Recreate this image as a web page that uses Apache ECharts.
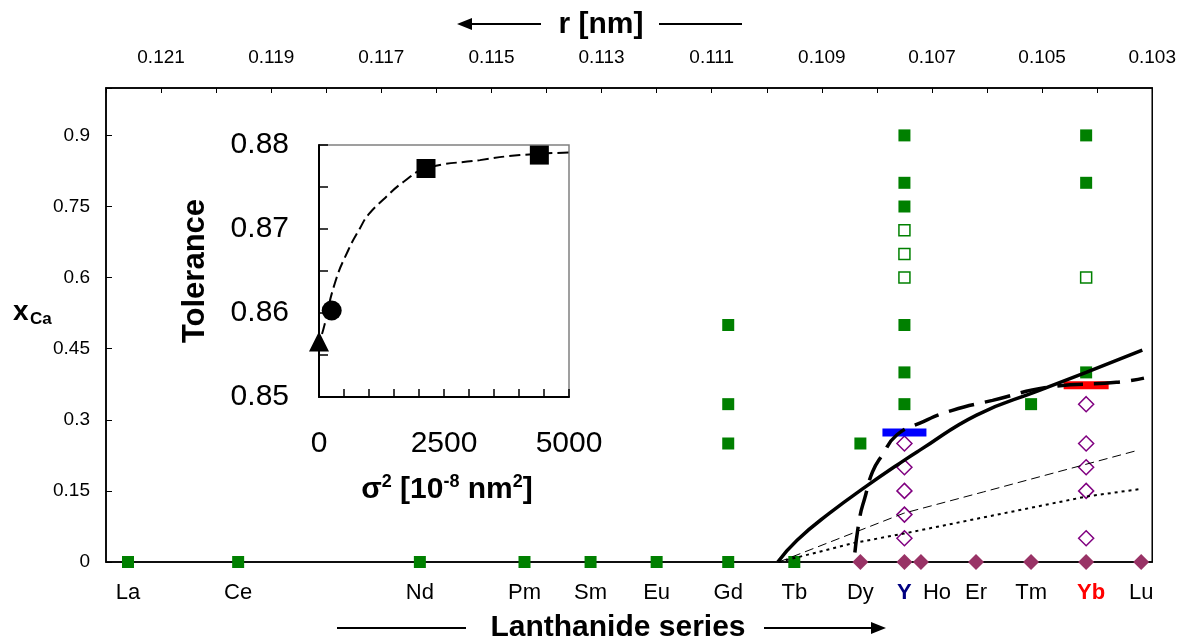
<!DOCTYPE html>
<html>
<head>
<meta charset="utf-8">
<script src="https://cdn.jsdelivr.net/npm/echarts@6.0.0/dist/echarts.min.js"></script>
<style>
  html, body { margin: 0; padding: 0; background: #fff; }
  #chart { width: 1179px; height: 641px; }
</style>
</head>
<body>
<div id="chart"></div>
<script>
const FONT = '"Liberation Sans", Arial, sans-serif';

// lanthanides (plus Y) and their ionic radii [nm]
const elements = ['La', 'Ce', 'Nd', 'Pm', 'Sm', 'Eu', 'Gd', 'Tb', 'Dy', 'Y', 'Ho', 'Er', 'Tm', 'Yb', 'Lu'];
const radii = [0.1216, 0.1196, 0.1163, 0.1144, 0.1132, 0.1120, 0.1107, 0.1095, 0.1083, 0.1075, 0.1072, 0.1062, 0.1052, 0.1042, 0.1032];

const rTickLabels = [0.121, 0.119, 0.117, 0.115, 0.113, 0.111, 0.109, 0.107, 0.105, 0.103];
const xCaTickLabels = [0, 0.15, 0.3, 0.45, 0.6, 0.75, 0.9];

// points: [element, x_Ca]
const greenFilled = [['La', 0], ['Ce', 0], ['Nd', 0], ['Pm', 0], ['Sm', 0], ['Eu', 0],
  ['Gd', 0], ['Gd', 0.25], ['Gd', 0.333], ['Gd', 0.5], ['Tb', 0], ['Dy', 0.25],
  ['Y', 0.333], ['Y', 0.4], ['Y', 0.5], ['Y', 0.75], ['Y', 0.8], ['Y', 0.9],
  ['Tm', 0.333], ['Yb', 0.4], ['Yb', 0.8], ['Yb', 0.9]];
const greenOpen = [['Y', 0.6], ['Y', 0.65], ['Y', 0.7], ['Yb', 0.6]];
const purpleFilled = [['Dy', 0], ['Y', 0], ['Ho', 0], ['Er', 0], ['Tm', 0], ['Yb', 0], ['Lu', 0]];
const purpleOpen = [['Y', 0.05], ['Y', 0.1], ['Y', 0.15], ['Y', 0.2], ['Y', 0.25],
  ['Yb', 0.05], ['Yb', 0.15], ['Yb', 0.2], ['Yb', 0.25], ['Yb', 0.333]];
const blueBar = [['Y', 0.273]];
const redBar = [['Yb', 0.373]];

// curves: [r, x_Ca]
const solidCurve = [[0.1098, 0], [0.10945, 0.046], [0.10886, 0.103], [0.10819, 0.16], [0.10750, 0.215],
  [0.10722, 0.236], [0.10619, 0.31], [0.10505, 0.362], [0.10420, 0.40], [0.10318, 0.447]];
const longDashCurve = [[0.10840, 0.02], [0.10831, 0.095], [0.10822, 0.135], [0.10808, 0.19], [0.10790, 0.226],
  [0.10764, 0.268], [0.10722, 0.293], [0.10663, 0.32], [0.10590, 0.341], [0.10487, 0.369],
  [0.10365, 0.379], [0.10315, 0.388]];
const thinDashCurve = [[0.10978, 0], [0.10751, 0.103], [0.10606, 0.148], [0.10325, 0.236]];
const dottedCurve = [[0.10978, 0], [0.10842, 0.04], [0.10751, 0.06], [0.10420, 0.138], [0.10322, 0.154]];

// inset: tolerance vs sigma^2
const sigmaTickLabels = [0, 2500, 5000];
const tolTickLabels = [0.85, 0.86, 0.87, 0.88];
const insetTriangle = [[0, 0.8566]];
const insetCircle = [[254, 0.8603]];
const insetSquares = [[2140, 0.8772], [4407, 0.8788]];
const insetFit = [[60, 0.8575], [94, 0.8582], [320, 0.8636], [587, 0.8675], [820, 0.8701], [987, 0.8717],
  [1287, 0.8735], [1687, 0.8756], [2140, 0.8772], [3220, 0.8782], [4020, 0.8788], [5000, 0.8791]];

const rOf = name => radii[elements.indexOf(name)];
const toXY = list => list.map(([n, v]) => [rOf(n), v]);

const chart = echarts.init(document.getElementById('chart'));

const textBase = { color: '#000', fontFamily: FONT };

const option = {
  animation: false,
  grid: [
    { left: 106, top: 88, width: 1048, height: 474, show: true, borderColor: '#000', borderWidth: 1.5 },
    { left: 319, top: 145, width: 250, height: 252, show: true, borderColor: '#808080', borderWidth: 1.5, backgroundColor: '#fff' }
  ],
  xAxis: [
    {
      gridIndex: 0, type: 'value', position: 'top', min: 0.103, max: 0.122, interval: 0.001, inverse: true,
      axisLine: { show: true, onZero: false, lineStyle: { color: '#000', width: 1.5 } },
      axisTick: { show: true, inside: true, length: 5, lineStyle: { color: '#000' } },
      axisLabel: { ...textBase, fontSize: 19, margin: 21, customValues: rTickLabels, formatter: v => v.toFixed(3) },
      splitLine: { show: false }
    },
    {
      gridIndex: 0, type: 'value', position: 'bottom', min: 0.103, max: 0.122, inverse: true,
      axisLine: { show: true, onZero: false, lineStyle: { color: '#000', width: 1.5 } },
      axisTick: { show: false },
      axisLabel: {
        ...textBase, fontSize: 22, margin: 20, customValues: radii,
        formatter: v => {
          let i = 0;
          radii.forEach((r, k) => { if (Math.abs(r - v) < Math.abs(radii[i] - v)) i = k; });
          const n = elements[i];
          if (n === 'Y') return '{y|Y}';
          if (n === 'Yb') return '{yb|Yb}';
          if (n === 'Ho') return '{ho|Ho}';
          return n;
        },
        rich: {
          y: { color: '#000080', fontWeight: 'bold', fontSize: 22, fontFamily: FONT },
          yb: { color: '#ff0000', fontWeight: 'bold', fontSize: 22, fontFamily: FONT, padding: [0, 0, 0, 10] },
          ho: { color: '#000', fontSize: 22, fontFamily: FONT, padding: [0, 0, 0, 32] }
        }
      },
      splitLine: { show: false }
    },
    {
      gridIndex: 1, type: 'value', min: 0, max: 5000, interval: 500,
      axisLine: { show: true, onZero: false, lineStyle: { color: '#000', width: 2 } },
      axisTick: { show: true, inside: true, length: 8, lineStyle: { color: '#000', width: 1.5 } },
      axisLabel: { ...textBase, fontSize: 30, margin: 32, customValues: sigmaTickLabels, formatter: v => String(v) },
      splitLine: { show: false }
    }
  ],
  yAxis: [
    {
      gridIndex: 0, type: 'value', min: 0, max: 1, interval: 0.15,
      axisLine: { show: true, onZero: false, lineStyle: { color: '#000', width: 1.5 } },
      axisTick: { show: true, inside: true, length: 6, lineStyle: { color: '#000' } },
      axisLabel: { ...textBase, fontSize: 19, margin: 16, customValues: xCaTickLabels, formatter: v => String(v) },
      splitLine: { show: false }
    },
    {
      gridIndex: 1, type: 'value', min: 0.85, max: 0.88, interval: 0.005,
      axisLine: { show: true, onZero: false, lineStyle: { color: '#000', width: 2 } },
      axisTick: { show: true, inside: true, length: 9, lineStyle: { color: '#000', width: 1.5 } },
      axisLabel: { ...textBase, fontSize: 30, margin: 30, customValues: tolTickLabels, formatter: v => v.toFixed(2) },
      splitLine: { show: false }
    }
  ],
  series: [
    { type: 'scatter', clip: false, data: toXY(greenFilled), symbol: 'rect', symbolSize: 12, itemStyle: { color: '#008000', opacity: 1 } },
    { type: 'scatter', clip: false, data: toXY(greenOpen), symbol: 'rect', symbolSize: 11,
      itemStyle: { color: '#fff', borderColor: '#008000', borderWidth: 1.5, opacity: 1 } },
    { type: 'scatter', clip: false, data: toXY(purpleFilled), symbol: 'diamond', symbolSize: 16, itemStyle: { color: '#993366', opacity: 1 } },
    { type: 'scatter', clip: false, data: toXY(purpleOpen), symbol: 'diamond', symbolSize: 15,
      itemStyle: { color: '#fff', borderColor: '#800080', borderWidth: 1.5, opacity: 1 } },
    { type: 'scatter', clip: false, data: toXY(blueBar), symbol: 'rect', symbolSize: [44, 8], itemStyle: { color: '#0000ff', opacity: 1 } },
    { type: 'scatter', clip: false, data: toXY(redBar), symbol: 'rect', symbolSize: [45, 8], itemStyle: { color: '#ff0000', opacity: 1 } },
    { type: 'line', data: thinDashCurve, showSymbol: false, z: 3, lineStyle: { color: '#000', width: 1, type: [9, 5] } },
    { type: 'line', data: dottedCurve, showSymbol: false, z: 3, lineStyle: { color: '#000', width: 2, type: [3, 4] } },
    { type: 'line', data: solidCurve, smooth: true, showSymbol: false, z: 4, lineStyle: { color: '#000', width: 3.5 } },
    { type: 'line', data: longDashCurve, smooth: true, showSymbol: false, z: 4, lineStyle: { color: '#000', width: 3.5, type: [26, 11] } },
    // inset
    { type: 'line', xAxisIndex: 2, yAxisIndex: 1, data: insetFit, smooth: true, showSymbol: false,
      lineStyle: { color: '#000', width: 2, type: [11, 5] } },
    { type: 'scatter', xAxisIndex: 2, yAxisIndex: 1, clip: false, data: insetTriangle, symbol: 'triangle', symbolSize: 20, itemStyle: { color: '#000', opacity: 1 } },
    { type: 'scatter', xAxisIndex: 2, yAxisIndex: 1, clip: false, data: insetCircle, symbol: 'circle', symbolSize: 20, itemStyle: { color: '#000', opacity: 1 } },
    { type: 'scatter', xAxisIndex: 2, yAxisIndex: 1, clip: false, data: insetSquares, symbol: 'rect', symbolSize: 19, itemStyle: { color: '#000', opacity: 1 } }
  ],
  graphic: [
    // top title with arrows
    { type: 'text', x: 601, y: 25, style: { text: 'r [nm]', font: 'bold 30px ' + FONT, fill: '#000', textAlign: 'center', textVerticalAlign: 'middle' } },
    { type: 'line', shape: { x1: 468, y1: 24, x2: 541, y2: 24 }, style: { stroke: '#000', lineWidth: 2 } },
    { type: 'polygon', shape: { points: [[457, 24], [472, 18], [472, 30]] }, style: { fill: '#000' } },
    { type: 'line', shape: { x1: 659, y1: 24, x2: 742, y2: 24 }, style: { stroke: '#000', lineWidth: 2 } },
    // bottom title with arrows
    { type: 'text', x: 618, y: 628, style: { text: 'Lanthanide series', font: 'bold 30px ' + FONT, fill: '#000', textAlign: 'center', textVerticalAlign: 'middle' } },
    { type: 'line', shape: { x1: 337, y1: 628, x2: 466, y2: 628 }, style: { stroke: '#000', lineWidth: 2 } },
    { type: 'line', shape: { x1: 764, y1: 628, x2: 874, y2: 628 }, style: { stroke: '#000', lineWidth: 2 } },
    { type: 'polygon', shape: { points: [[886, 628], [871, 622], [871, 634]] }, style: { fill: '#000' } },
    // y axis name
    { type: 'text', x: 13, y: 312, style: { text: 'x', font: 'bold 28px ' + FONT, fill: '#000', textAlign: 'left', textVerticalAlign: 'middle' } },
    { type: 'text', x: 30, y: 319, style: { text: 'Ca', font: 'bold 17px ' + FONT, fill: '#000', textAlign: 'left', textVerticalAlign: 'middle' } },
    // inset axis names
    { type: 'text', x: 195, y: 271, rotation: Math.PI / 2,
      style: { text: 'Tolerance', font: 'bold 31px ' + FONT, fill: '#000', textAlign: 'center', textVerticalAlign: 'middle' } },
    { type: 'text', x: 447, y: 490,
      style: {
        text: '{b|σ}{s|2}{b| [10}{s|-8}{b| nm}{s|2}{b|]}', textAlign: 'center', textVerticalAlign: 'middle', fill: '#000',
        rich: {
          b: { font: 'bold 30px ' + FONT, fill: '#000', lineHeight: 34 },
          s: { font: 'bold 18px ' + FONT, fill: '#000', verticalAlign: 'top', lineHeight: 20 }
        }
      } }
  ]
};

chart.setOption(option);
</script>
</body>
</html>
